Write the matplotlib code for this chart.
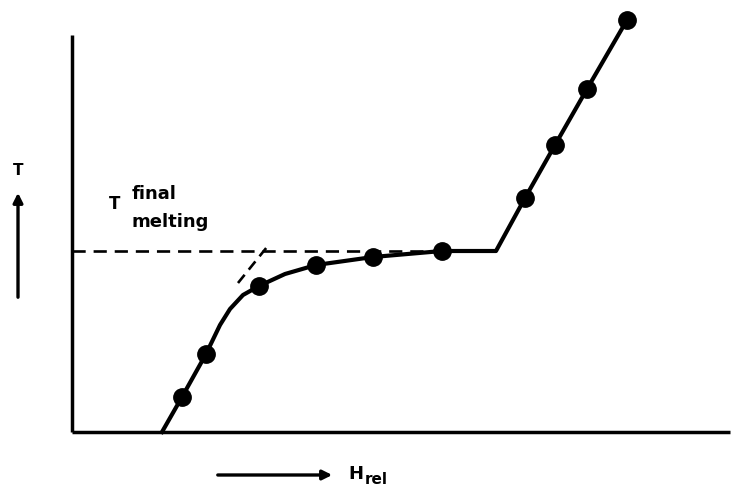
import numpy as np
import matplotlib.pyplot as plt

# curve through the measured points (H_rel, T), arbitrary units
curve_h = [9.0, 11.0, 13.4, 14.8, 15.8, 17.1, 18.7, 21.3, 24.4, 30.1, 37.0, 42.4, 45.3, 48.3, 51.5, 55.5]
curve_t = [0.0, 3.5, 7.8, 10.7, 12.3, 13.7, 14.6, 15.8, 16.7, 17.5, 18.1, 18.1, 23.4, 28.7, 34.3, 41.2]

# measured points (dots)
dot_h = [11.0, 13.4, 18.7, 24.4, 30.1, 37.0, 45.3, 48.3, 51.5, 55.5]
dot_t = [3.5, 7.8, 14.6, 16.7, 17.5, 18.1, 23.4, 28.7, 34.3, 41.2]

t_melt = 18.1
tangent_h = [16.6, 19.5]
tangent_t = [14.9, 18.5]

fig = plt.figure(figsize=(7.31, 4.9), dpi=100)
ax = fig.add_axes([0, 0, 1, 1])
ax.set_xlim(-7.2, 65.9)
ax.set_ylim(-5.8, 43.2)
ax.axis('off')

# axes lines
ax.plot([0, 0], [0, 39.7], color='black', lw=2.5, solid_capstyle='butt')
ax.plot([0, 65.8], [0, 0], color='black', lw=2.5, solid_capstyle='butt')

# dashed lines
ax.plot([0, 42.4], [t_melt, t_melt], color='black', lw=1.9, dashes=(5, 3))
ax.plot(tangent_h, tangent_t, color='black', lw=1.9, dashes=(4, 2.5))

ax.plot(curve_h, curve_t, color='black', lw=3.0, solid_joinstyle='round')
ax.plot(dot_h, dot_t, 'o', color='black', ms=12.5)

# labels
ax.text(-5.4, 26.2, 'T', fontsize=11, fontweight='bold', ha='center', va='center')
ax.annotate('', xy=(-5.4, 24.2), xytext=(-5.4, 13.2),
            arrowprops=dict(arrowstyle='-|>', color='black', lw=2.4, mutation_scale=14))

ax.text(4.3, 22.8, 'T', fontsize=12, fontweight='bold', ha='center', va='center')
ax.text(6.0, 23.8, 'final', fontsize=13, fontweight='bold', ha='left', va='center')
ax.text(6.0, 21.0, 'melting', fontsize=13, fontweight='bold', ha='left', va='center')

ax.annotate('', xy=(26.3, -4.3), xytext=(14.3, -4.3),
            arrowprops=dict(arrowstyle='-|>', color='black', lw=2.4, mutation_scale=14))
ax.text(27.6, -4.2, 'H', fontsize=13, fontweight='bold', ha='left', va='center')
ax.text(29.3, -4.75, 'rel', fontsize=11, fontweight='bold', ha='left', va='center')

fig.savefig('out.png', dpi=100)
